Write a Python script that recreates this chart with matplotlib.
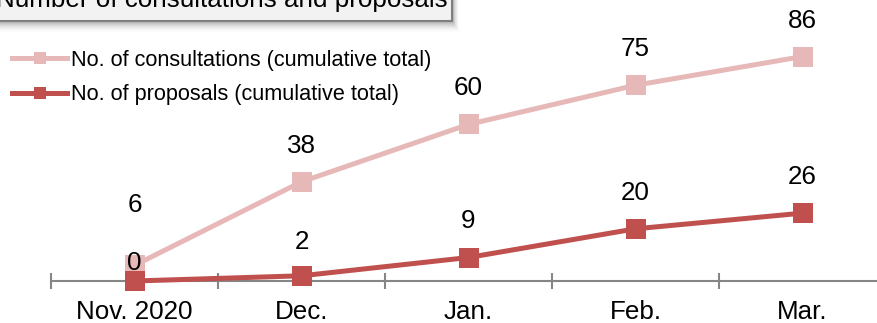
import matplotlib
matplotlib.use("Agg")
import matplotlib.pyplot as plt
from matplotlib.patches import Rectangle
import numpy as np

# ---- data ----
months = ["Nov. 2020", "Dec.", "Jan.", "Feb.", "Mar."]
consultations = [6, 38, 60, 75, 86]
proposals = [0, 2, 9, 20, 26]
series_names = ["No. of consultations (cumulative total)",
                "No. of proposals (cumulative total)"]
title_text = "Number of consultations and proposals"

# ---- style ----
FONT = "Liberation Sans"
plt.rcParams["font.family"] = [FONT, "DejaVu Sans"]
PINK = "#E6B9B8"
RED = "#C0504D"
AXIS_GRAY = "#868686"

W, H, DPI = 878, 323, 100
fig = plt.figure(figsize=(W / DPI, H / DPI), dpi=DPI)

def px(x, y):
    """figure pixel (from top-left) -> figure fraction"""
    return x / W, 1 - y / H

# plot area: x-axis at y=281 px, ticks every 167 px starting at x=51
left = 51 / W
width = 835 / W
bottom = 42 / H
height = 261 / H
ax = fig.add_axes([left, bottom, width, height])
ax.set_xlim(-0.5, len(months) - 0.5)
ax.set_ylim(0, 100)

x = np.arange(len(months))
lw = 3.6
ms = 15
ax.plot(x, consultations, color=PINK, lw=lw, marker="s", ms=ms,
        markeredgewidth=0, clip_on=False, zorder=3, label=series_names[0])
ax.plot(x, proposals, color=RED, lw=lw, marker="s", ms=ms,
        markeredgewidth=0, clip_on=False, zorder=4, label=series_names[1])

# value labels (offsets in pixels above the marker)
lbl_fs = 26 * 72 / DPI
cons_off = [60, 36, 36, 36, 36]
prop_off = [18, 34, 37, 36, 36]
for xi, v, off in zip(x, consultations, cons_off):
    ax.annotate(str(v), (xi, v), xytext=(0, off * 72 / DPI),
                textcoords="offset points", ha="center", va="center",
                fontsize=lbl_fs, color="black", zorder=6, annotation_clip=False)
for xi, v, off in zip(x, proposals, prop_off):
    ax.annotate(str(v), (xi, v), xytext=(0, off * 72 / DPI),
                textcoords="offset points", ha="center", va="center",
                fontsize=lbl_fs, color="black", zorder=6, annotation_clip=False)

# axes styling: only the category axis line
for side in ["left", "right", "top"]:
    ax.spines[side].set_visible(False)
ax.spines["bottom"].set_color(AXIS_GRAY)
ax.spines["bottom"].set_linewidth(1.5)
ax.set_yticks([])
ax.set_xticks(x)
ax.set_xticklabels(months, fontsize=lbl_fs)
ax.set_xticks(np.arange(-0.5, len(months) + 0.5, 1), minor=True)
ax.tick_params(axis="x", which="major", length=0, pad=14)
ax.tick_params(axis="x", which="minor", length=11.5, width=1.5,
               direction="inout", color=AXIS_GRAY)
ax.patch.set_visible(False)

# legend
leg = fig.legend(loc="upper left", bbox_to_anchor=px(12, 50),
                 frameon=False, fontsize=21.6 * 72 / DPI,
                 handlelength=2.55, handletextpad=0.2, labelspacing=0.62,
                 borderpad=0, borderaxespad=0, markerscale=0.6)

# title box with drop shadow, partially cut off at the top edge
box_right, box_bottom = 452, 21
for i in range(12):
    a = 0.5 * (1 - i / 12) ** 1.5
    sx0, sy0 = px(-10, -10)
    sx1, sy1 = px(box_right + 1 + i * 0.6, box_bottom + 1 + i)
    fig.patches.append(Rectangle((sx0, sy1), sx1 - sx0, sy0 - sy1,
                                 transform=fig.transFigure, facecolor="#808080",
                                 edgecolor="none", alpha=a * 0.3, zorder=1))
bx0, by0 = px(-10, -10)
bx1, by1 = px(box_right, box_bottom)
fig.patches.append(Rectangle((bx0, by1), bx1 - bx0, by0 - by1,
                             transform=fig.transFigure, facecolor="#F2F2F2",
                             edgecolor="#7F7F7F", linewidth=1.5, zorder=2))
fig.text(*px(-4, 7), title_text, fontsize=lbl_fs, ha="left",
         va="baseline", color="black", zorder=3)

fig.savefig("out.png", dpi=DPI)
